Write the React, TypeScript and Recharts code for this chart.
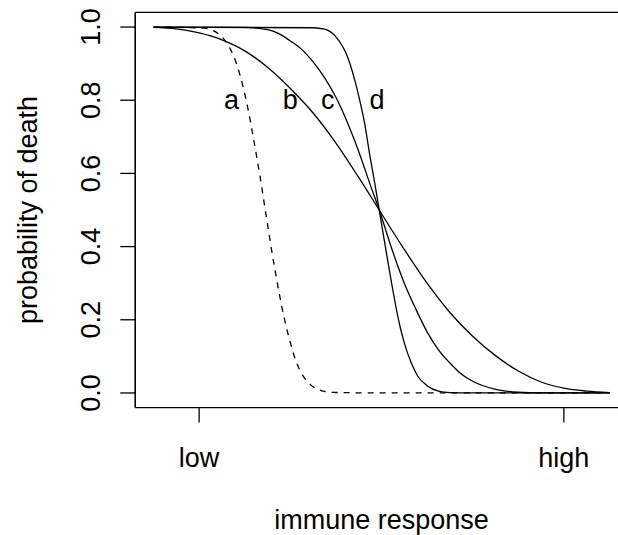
import React from 'react';
import { LineChart, Line, XAxis, YAxis, ReferenceLine, ReferenceDot } from 'recharts';

const FONT = '"Liberation Sans", Arial, Helvetica, sans-serif';

// curve a (dashed)
const aX = [0, 1.09, 1.31, 1.53, 1.68, 1.83, 1.97, 2.08, 2.19, 2.27, 2.34, 2.45, 2.52, 2.59, 2.67, 2.76, 2.85, 2.96, 3.07, 3.21, 3.39, 3.65, 3.94, 5.0, 10];
const aY = [1.0, 0.997, 0.99, 0.969, 0.941, 0.896, 0.834, 0.771, 0.697, 0.64, 0.589, 0.5, 0.445, 0.39, 0.332, 0.27, 0.214, 0.157, 0.107, 0.062, 0.029, 0.008, 0.0015, 0.0, 0.0];
// curve b
const bX = [0, 0.5, 1, 1.5, 2, 2.5, 3, 3.5, 4, 4.5, 4.95, 5.5, 6, 6.5, 7, 7.5, 8, 8.5, 9, 9.5, 10];
const bY = [0.999, 0.995, 0.984, 0.965, 0.935, 0.89, 0.832, 0.765, 0.683, 0.589, 0.5, 0.392, 0.3, 0.22, 0.155, 0.102, 0.06, 0.03, 0.013, 0.005, 0.001];
// curve c
const cX = [0, 2, 2.5, 2.75, 3, 3.25, 3.5, 3.75, 4, 4.25, 4.5, 4.75, 4.95, 5.25, 5.5, 5.75, 6, 6.25, 6.5, 6.75, 7, 7.5, 8, 8.5, 10];
const cY = [1, 0.999, 0.993, 0.982, 0.962, 0.939, 0.905, 0.862, 0.808, 0.74, 0.66, 0.57, 0.5, 0.385, 0.3, 0.23, 0.167, 0.118, 0.082, 0.052, 0.032, 0.01, 0.002, 0.0005, 0];
// curve d
const dX = [0, 3.5, 3.75, 4, 4.25, 4.5, 4.625, 4.75, 4.85, 4.95, 5.05, 5.15, 5.25, 5.4, 5.5, 5.65, 5.8, 6, 6.25, 6.5, 7, 10];
const dY = [1, 0.998, 0.994, 0.973, 0.92, 0.812, 0.74, 0.645, 0.575, 0.5, 0.425, 0.352, 0.28, 0.185, 0.137, 0.083, 0.045, 0.02, 0.005, 0.001, 0, 0];

const yTicks = [0, 0.2, 0.4, 0.6, 0.8, 1.0];
const yTickLabels = ['0.0', '0.2', '0.4', '0.6', '0.8', '1.0'];
const xTicks = [1, 9];
const xTickLabels = ['low', 'high'];

const curveLabels = ['a', 'b', 'c', 'd'];
const curveLabelX = [1.71, 3.0, 3.82, 4.9];
const curveLabelY = [0.8, 0.8, 0.8, 0.8];

const xTitle = 'immune response';
const yTitle = 'probability of death';

const zip = (xs: number[], ys: number[]) => xs.map((x, i) => ({ x, y: ys[i] }));

const FS = 27;

const XTick = (props: any) => {
  const { x, y, payload } = props;
  const i = xTicks.findIndex((v) => Math.abs(v - payload.value) < 1e-9);
  return (
    <text x={x} y={y + 42} textAnchor="middle" fontSize={FS} fontFamily={FONT} fill="#000">
      {xTickLabels[i]}
    </text>
  );
};

const YTick = (props: any) => {
  const { x, y, payload } = props;
  const i = yTicks.findIndex((v) => Math.abs(v - payload.value) < 1e-9);
  const bx = x - 18.3;
  return (
    <text x={bx} y={y} transform={`rotate(-90 ${bx} ${y})`} textAnchor="middle" fontSize={FS} fontFamily={FONT} fill="#000">
      {yTickLabels[i]}
    </text>
  );
};

const XTitle = (props: any) => {
  const vb = props.viewBox;
  return (
    <text x={vb.x + vb.width / 2} y={vb.y + 121.7} textAnchor="middle" fontSize={FS} fontFamily={FONT} fill="#000">
      {xTitle}
    </text>
  );
};

const YTitle = (props: any) => {
  const vb = props.viewBox;
  const cx = 37;
  const cy = vb.y + vb.height / 2;
  return (
    <text x={cx} y={cy} transform={`rotate(-90 ${cx} ${cy})`} textAnchor="middle" fontSize={FS} fontFamily={FONT} fill="#000">
      {yTitle}
    </text>
  );
};

export default function App() {
  const SW = 1.3;
  return (
    <div style={{ position: 'absolute', left: 0, top: 0, width: 618, height: 535, overflow: 'hidden', background: '#fff' }}>
      <LineChart width={640} height={535} margin={{ top: 12.4, right: 12.3, bottom: 0, left: 0 }}>
        <XAxis
          type="number"
          dataKey="x"
          domain={[-0.4, 10.4]}
          ticks={xTicks}
          height={127.4}
          tickSize={15}
          tick={<XTick />}
          axisLine={{ stroke: '#000', strokeWidth: SW }}
          tickLine={{ stroke: '#000', strokeWidth: SW }}
          label={(p: any) => <XTitle {...p} />}
          allowDataOverflow
        />
        <YAxis
          type="number"
          domain={[-0.04, 1.04]}
          ticks={yTicks}
          width={135.3}
          tickSize={15}
          tick={<YTick />}
          axisLine={{ stroke: '#000', strokeWidth: SW }}
          tickLine={{ stroke: '#000', strokeWidth: SW }}
          label={(p: any) => <YTitle {...p} />}
          allowDataOverflow
        />
        <ReferenceLine y={1.04} stroke="#000" strokeWidth={SW} ifOverflow="visible" />
        <ReferenceLine x={-0.4} stroke="#000" strokeWidth={SW} ifOverflow="visible" />
        <Line data={zip(aX, aY)} dataKey="y" type="monotone" stroke="#000" strokeWidth={SW} strokeDasharray="6 6" dot={false} isAnimationActive={false} />
        <Line data={zip(bX, bY)} dataKey="y" type="monotone" stroke="#000" strokeWidth={SW} dot={false} isAnimationActive={false} />
        <Line data={zip(cX, cY)} dataKey="y" type="monotone" stroke="#000" strokeWidth={SW} dot={false} isAnimationActive={false} />
        <Line data={zip(dX, dY)} dataKey="y" type="monotone" stroke="#000" strokeWidth={SW} dot={false} isAnimationActive={false} />
        {curveLabels.map((lab, i) => (
          <ReferenceDot
            key={lab}
            x={curveLabelX[i]}
            y={curveLabelY[i]}
            r={0}
            ifOverflow="visible"
            shape={(p: any) => (
              <text x={p.cx} y={p.cy + 8.3} textAnchor="middle" fontSize={FS} fontFamily={FONT} fill="#000">
                {lab}
              </text>
            )}
          />
        ))}
      </LineChart>
    </div>
  );
}
